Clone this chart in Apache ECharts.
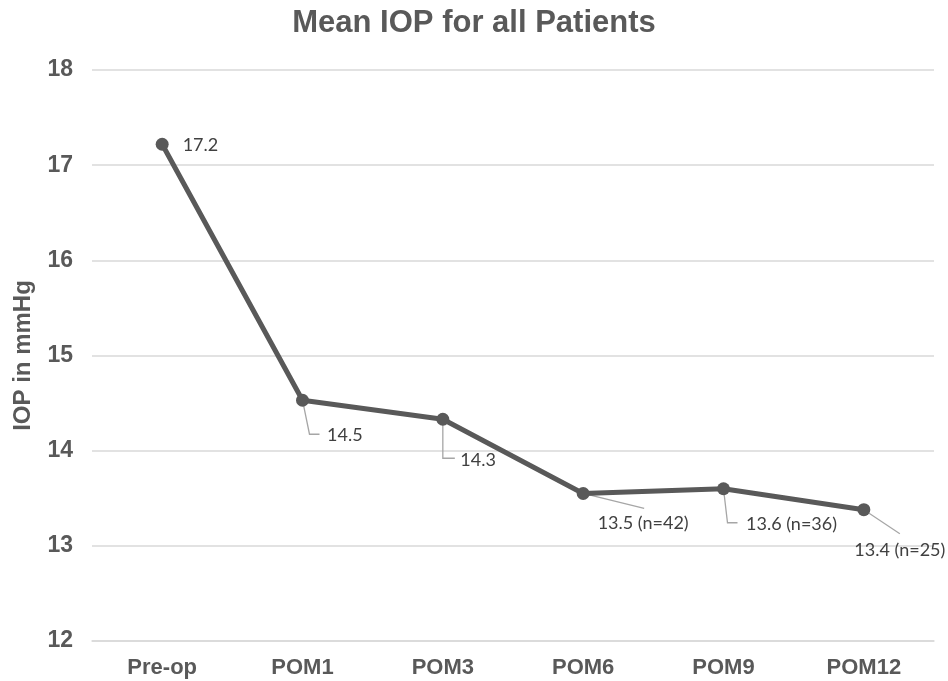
<!DOCTYPE html>
<html>
<head>
<meta charset="utf-8">
<script src="https://cdn.jsdelivr.net/npm/echarts@6/dist/echarts.min.js"></script>
<style>html,body{margin:0;padding:0;background:#fff}#chart{width:948px;height:681px}</style>
</head>
<body>
<div id="chart"></div>
<script>
const categories = ['Pre-op', 'POM1', 'POM3', 'POM6', 'POM9', 'POM12'];
const meanIOP = [17.22, 14.53, 14.33, 13.55, 13.6, 13.38];
const pointLabels = ['17.2', '14.5', '14.3', '13.5 (n=42)', '13.6 (n=36)', '13.4 (n=25)'];
const yTicks = [12, 13, 14, 15, 16, 17, 18];

// label offsets (relative to default 'right' position) and leader line shapes (relative to point)
const labelShift = [
  {dx: 0, dy: 1},
  {dx: 4, dy: 35},
  {dx: -3, dy: 41},
  {dx: -6, dy: 30},
  {dx: 2, dy: 35},
  {dx: -30, dy: 41}
];
const leaderShapes = [
  null,
  [[0, 0], [7, 34], [17, 34]],
  [[0, 0], [0, 39], [12, 39]],
  [[0, 0], [61, 15]],
  [[0, 0], [4, 34], [14, 34]],
  [[0, 0], [36, 24]]
];

const axisFont = 'Liberation Sans, Arial, sans-serif';
const chart = echarts.init(document.getElementById('chart'));
chart.setOption({
  animation: false,
  title: {
    text: 'Mean IOP for all Patients',
    left: 'center',
    top: 3,
    textStyle: {fontFamily: axisFont, fontWeight: 'bold', fontSize: 31, color: '#595959'}
  },
  grid: {left: 92, right: 14, top: 70, bottom: 40},
  xAxis: {
    type: 'category',
    data: categories,
    boundaryGap: true,
    axisLine: {show: true, lineStyle: {color: '#d9d9d9', width: 1.5}},
    axisTick: {show: false},
    axisLabel: {margin: 16, fontFamily: axisFont, fontWeight: 'bold', fontSize: 22, color: '#595959'}
  },
  yAxis: {
    type: 'value',
    min: yTicks[0],
    max: yTicks[yTicks.length - 1],
    interval: 1,
    name: 'IOP in mmHg',
    nameLocation: 'middle',
    nameGap: 57,
    nameTextStyle: {fontFamily: axisFont, fontWeight: 'bold', fontSize: 24, color: '#595959'},
    axisLine: {show: false},
    axisTick: {show: false},
    splitLine: {lineStyle: {color: '#d9d9d9', width: 1.5}},
    axisLabel: {margin: 19, fontFamily: axisFont, fontWeight: 'bold', fontSize: 23, color: '#595959'}
  },
  series: [{
    type: 'custom',
    z: 1,
    silent: true,
    data: meanIOP.map((v, i) => [i, v]),
    renderItem: function (params, api) {
      const shape = leaderShapes[params.dataIndex];
      if (!shape) return null;
      const c = api.coord([api.value(0), api.value(1)]);
      return {
        type: 'polyline',
        shape: {points: shape.map(o => [c[0] + o[0], c[1] + o[1]])},
        style: {stroke: '#a6a6a6', lineWidth: 1.3, fill: null}
      };
    }
  }, {
    type: 'line',
    z: 2,
    data: meanIOP,
    symbol: 'circle',
    symbolSize: 13,
    lineStyle: {color: '#595959', width: 5},
    itemStyle: {color: '#595959'},
    label: {
      show: true,
      position: 'right',
      distance: 14,
      formatter: p => pointLabels[p.dataIndex],
      fontFamily: 'Lato, sans-serif',
      fontSize: 18,
      color: '#404040'
    },
    labelLayout: p => labelShift[p.dataIndex]
  }]
});
</script>
</body>
</html>
